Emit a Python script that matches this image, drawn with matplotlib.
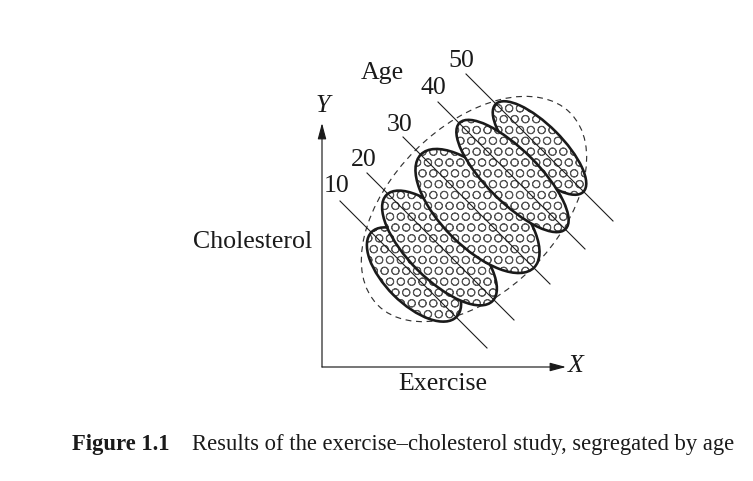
import matplotlib.pyplot as plt
from matplotlib.patches import Ellipse

# Skizze: Cholesterin gegen Bewegung, nach Alter getrennt (Pixelkoordinaten, y nach unten)
ages = ["10", "20", "30", "40", "50"]

# Lage der Alters-Ellipsen
center_x = [414, 439.5, 477.5, 512.5, 539.5]
center_y = [274.5, 248, 211, 176, 148]
half_long = [60, 75, 80, 75, 62]
half_short = [29, 31, 36, 26, 23]
# Reihenfolge der Ueberdeckung (hoeher = weiter vorne)
stack = [1, 2, 3, 5, 4]

# Regressionsgeraden je Altersgruppe (Anfang / Ende)
line_x0 = [340, 367, 403, 438, 466]
line_y0 = [201, 173, 137, 102, 74]
line_x1 = [487, 514, 550, 585, 613]
line_y1 = [348, 320, 284, 249, 221]

# Beschriftung der Geraden
label_x = [337, 364, 400, 433, 461]
label_y = [186, 160, 125, 88, 61]

# gestrichelte Huelle um alle Daten
hull_center = (474, 209)
hull_size = (272, 166)

origin = (322, 367)
y_tip = (322, 123)
x_tip = (566, 367)

dpi = 130
ink = "#1a1a1a"
plt.rcParams['hatch.linewidth'] = 0.5
plt.rcParams['font.family'] = ['Liberation Serif', 'DejaVu Serif']

fig = plt.figure(figsize=(753 / dpi, 481 / dpi), dpi=dpi)
ax = fig.add_axes([0, 0, 1, 1])
ax.set_xlim(0, 753)
ax.set_ylim(481, 0)
ax.axis("off")

ax.add_patch(Ellipse(hull_center, hull_size[0], hull_size[1], angle=-45, facecolor="none",
                     edgecolor="#333333", linewidth=0.65, linestyle=(0, (5, 4)), zorder=0.5))

# jede Ellipse deckt die darunterliegenden ab (weiss gefuellt, mit Kreismuster)
for cx, cy, a, b, z in zip(center_x, center_y, half_long, half_short, stack):
    ax.add_patch(Ellipse((cx, cy), 2 * a, 2 * b, angle=45, facecolor="white",
                         edgecolor="#555555", linewidth=0, hatch="OO", zorder=z))
    ax.add_patch(Ellipse((cx, cy), 2 * a, 2 * b, angle=45, facecolor="none",
                         edgecolor=ink, linewidth=1.45, zorder=z + 0.5))

for x0, y0, x1, y1 in zip(line_x0, line_y0, line_x1, line_y1):
    ax.plot([x0, x1], [y0, y1], color=ink, lw=0.6, zorder=10)

for lab, lx, ly in zip(ages, label_x, label_y):
    ax.text(lx, ly, lab, fontsize=14.3, ha="center", va="center", color=ink)

ax.text(382, 73, "Age", fontsize=14.3, ha="center", va="center", color=ink)

# Achsen mit Pfeilen
arrow = dict(arrowstyle="-|>,head_length=0.75,head_width=0.2", color=ink,
             lw=0.65, shrinkA=0, shrinkB=0, mutation_scale=10)
ax.annotate("", xy=y_tip, xytext=origin, arrowprops=arrow)
ax.annotate("", xy=x_tip, xytext=origin, arrowprops=arrow)

ax.text(323, 106, "Y", fontsize=14.3, style="italic", ha="center", va="center", color=ink)
ax.text(568, 366, "X", fontsize=14.3, style="italic", ha="left", va="center", color=ink)
ax.text(312, 248, "Cholesterol", fontsize=14.3, ha="right", va="baseline", color=ink)
ax.text(443, 390, "Exercise", fontsize=14.3, ha="center", va="baseline", color=ink)

ax.text(72, 450, "Figure 1.1", fontsize=12.5, fontweight="bold", ha="left", va="baseline",
        color=ink)
ax.text(192, 450, "Results of the exercise\u2013cholesterol study, segregated by age",
        fontsize=12.5, ha="left", va="baseline", color=ink)

fig.savefig("out.png", dpi=dpi)
